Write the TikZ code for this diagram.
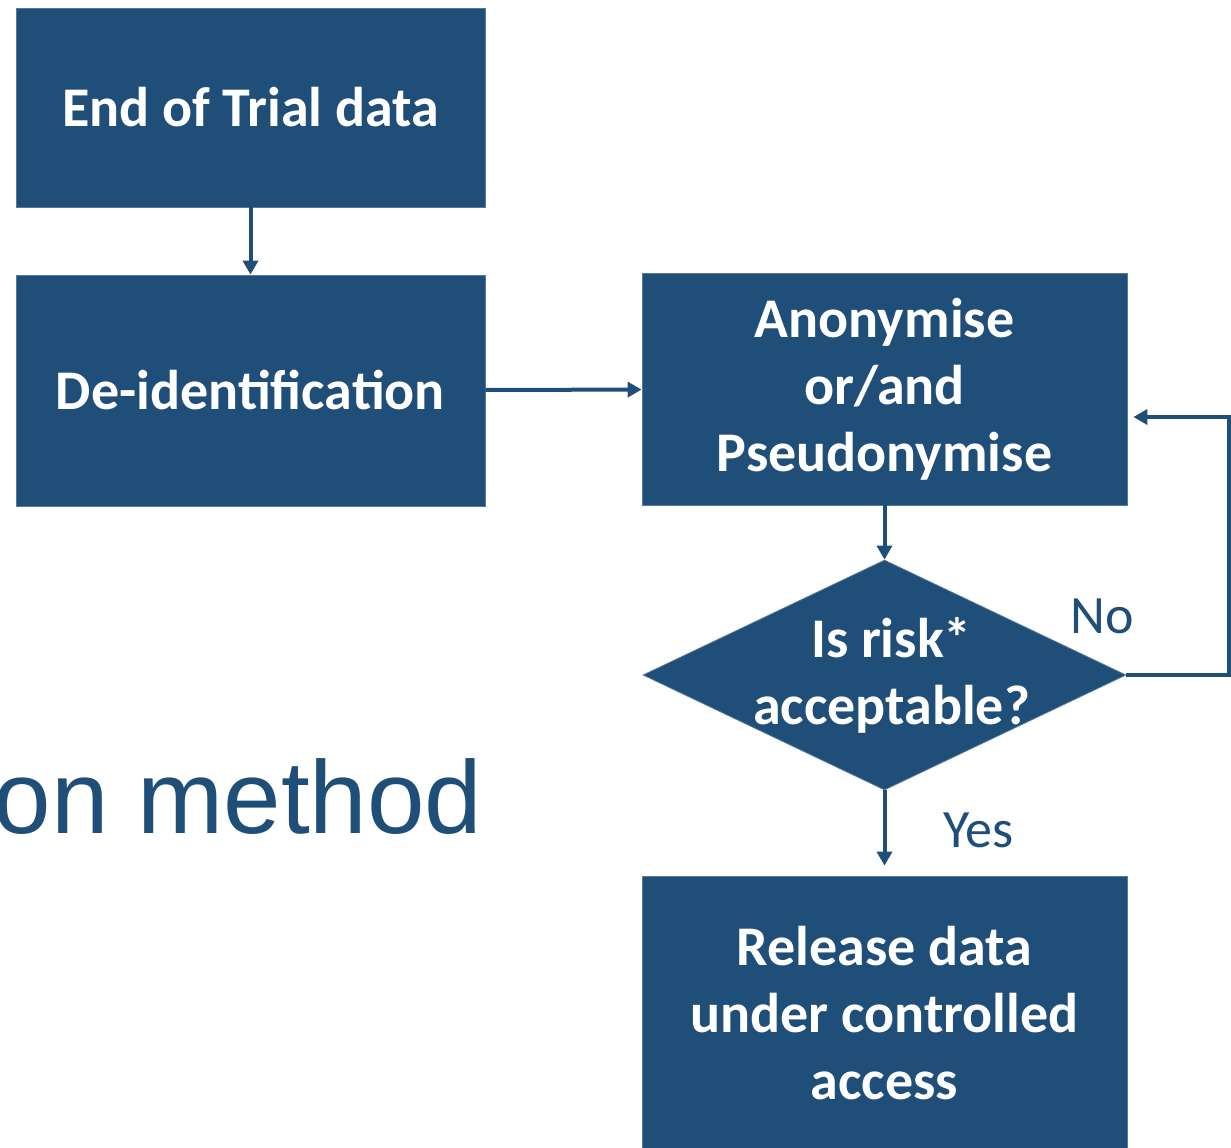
\documentclass[tikz,border=0pt]{standalone}
\usepackage{fontspec}
\usepackage{xcolor}
\usepackage{tikz}
\usetikzlibrary{shapes.geometric}
\usetikzlibrary{arrows.meta}
\newfontfamily\flowfont{Carlito}
\newfontfamily\slidefont{Liberation Sans}
\definecolor{flowblue}{HTML}{1F4E79}
\tikzset{
stagebox/.style={
  rectangle,
  fill=flowblue,
  draw=flowblue!75,
  line width=0.4pt,
  text=white,
  align=center,
  inner sep=0pt,
  font=\flowfont\bfseries\fontsize{28pt}{33.5pt}\selectfont
},
decision/.style={
  stagebox,
  diamond,
  aspect=2.1,
  inner xsep=-14pt
},
link/.style={
  draw=flowblue,
  line width=2pt,
  -{Triangle[length=7pt,width=7.5pt]}
},
answer/.style={
  text=flowblue,
  inner sep=0pt,
  font=\flowfont\fontsize{27pt}{33pt}\selectfont
},
}

\begin{document}
\begin{tikzpicture}[x=0.5pt,y=-0.5pt]
\useasboundingbox (0,0) rectangle (1231,1147);
% the stages
\node (endtrial) [stagebox,minimum width=234.5pt,minimum height=99.5pt]
  at (250.5,107.5) {End of Trial data};
\node (deid) [stagebox,minimum width=234.5pt,minimum height=115.5pt]
  at (250.5,390.5) {De-identification};
\node (anon) [stagebox,minimum width=242.5pt,minimum height=116pt]
  at (884.5,389) {Anonymise\\or/and\\Pseudonymise};
\node (risk) [decision,minimum width=241.5pt,minimum height=115pt]
  at (884.5,675) {\hspace*{7pt}Is risk*\\\hspace*{7pt}acceptable?};
\node (release) [stagebox,minimum width=242.5pt,minimum height=137.5pt]
  at (884.5,1013.5) {Release data\\under controlled\\access};
% the slide title behind the chart
\node (title) [anchor=base east,inner sep=0pt,text=flowblue,
  font=\slidefont\fontsize{51.7pt}{60pt}\selectfont] at (483,833) {on method};
% the arrows
\coordinate (loop) at (1229,675);
\draw[link] (endtrial) -- (deid);
\draw[link] (deid) -- (anon);
\draw[link] (anon) -- (risk);
\draw[link,shorten >=5pt] (risk) -- (release);
\draw[link] (risk.east) -- (loop) |- ([xshift=3pt,yshift=-14pt]anon.east);
% the answers
\node (no) [answer,anchor=base west] at (1070,633) {No};
\node (yes) [answer,anchor=base west] at (943,847) {Yes};
\end{tikzpicture}
\end{document}
